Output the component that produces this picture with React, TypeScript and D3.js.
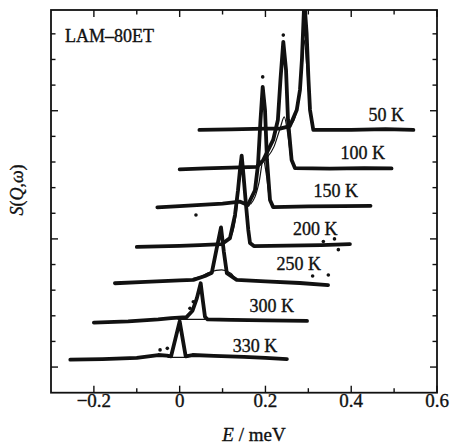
import React from "react";
import * as d3 from "d3";

type Pt = [number, number];

// Temperature labels and their positions (E, S)
const tempLabels = ["50 K", "100 K", "150 K", "200 K", "250 K", "300 K", "330 K"];
const labelE = [0.44, 0.375, 0.312, 0.264, 0.226, 0.163, 0.124];
const labelS = [10.61, 9.1, 7.62, 6.15, 4.79, 3.14, 1.6];

// Measured spectra (E in meV, S offset vertically)
const data50: Pt[] = [[0.046,10.25],[0.12,10.27],[0.2,10.3],[0.234,10.3],[0.257,10.4],[0.273,11.03],[0.2805,11.81],[0.285,12.98],[0.2906,15.3],[0.296,14.03],[0.3004,12.2],[0.3039,11.03],[0.3116,10.25],[0.4,10.25],[0.48,10.28],[0.545,10.25]];
const data100: Pt[] = [[0.0,8.71],[0.06,8.75],[0.12,8.78],[0.18,8.81],[0.195,9.08],[0.218,9.86],[0.229,10.64],[0.235,12.2],[0.2416,13.69],[0.248,12.59],[0.2526,10.64],[0.261,9.08],[0.269,8.76],[0.35,8.74],[0.43,8.76],[0.494,8.75]];
const data150: Pt[] = [[-0.052,7.23],[0.0,7.28],[0.05,7.33],[0.1,7.38],[0.141,7.45],[0.159,7.32],[0.1756,7.9],[0.1826,8.88],[0.1885,10.64],[0.1936,11.93],[0.199,11.03],[0.2036,9.08],[0.2106,7.52],[0.218,7.24],[0.3,7.27],[0.38,7.28],[0.445,7.29]];
const data200: Pt[] = [[-0.1,5.69],[0.0,5.73],[0.047,5.76],[0.0987,5.8],[0.1173,6.03],[0.129,6.93],[0.136,7.9],[0.1406,8.69],[0.1446,9.25],[0.1488,8.49],[0.1547,7.32],[0.16,6.35],[0.164,5.84],[0.173,5.72],[0.25,5.74],[0.33,5.76],[0.397,5.8]];
const data250: Pt[] = [[-0.151,4.27],[-0.08,4.32],[0.0,4.38],[0.032,4.4],[0.059,4.55],[0.075,4.68],[0.086,5.6],[0.0964,6.45],[0.103,5.5],[0.11,4.66],[0.133,4.4],[0.2,4.34],[0.28,4.28],[0.346,4.2]];
const data300: Pt[] = [[-0.2,2.73],[-0.12,2.78],[-0.05,2.86],[-0.02,2.91],[0.016,2.95],[0.03,3.2],[0.04,3.68],[0.049,4.27],[0.054,3.6],[0.059,2.96],[0.065,2.86],[0.12,2.84],[0.2,2.82],[0.297,2.8]];
const data330: Pt[] = [[-0.255,1.29],[-0.18,1.31],[-0.1,1.36],[-0.05,1.47],[-0.03,1.45],[-0.02,1.42],[-0.01,2.1],[0.0,2.78],[0.007,2.1],[0.014,1.42],[0.03,1.47],[0.08,1.44],[0.15,1.4],[0.2,1.36],[0.25,1.31]];

// Fitted curves (thin lines)
const fit50: Pt[] = [[0.24,10.32],[0.262,10.5],[0.276,11.3],[0.285,12.6],[0.2906,13.76],[0.296,12.8],[0.303,11.2],[0.31,10.3],[0.32,10.25]];
const fit100: Pt[] = [[0.18,8.78],[0.2,9.1],[0.22,9.6],[0.234,10.3],[0.2439,10.76],[0.252,10.1],[0.261,9.0],[0.27,8.78]];
const fit150: Pt[] = [[0.165,7.35],[0.1756,7.64],[0.185,8.2],[0.195,9.08],[0.203,8.4],[0.21,7.5],[0.218,7.28]];
const fit200: Pt[] = [[0.1,5.82],[0.12,6.1],[0.132,7.0],[0.14,8.3],[0.1446,8.7],[0.15,8.0],[0.156,7.0],[0.163,5.9],[0.17,5.75]];
const fit250: Pt[] = [[0.03,4.45],[0.047,4.52],[0.07,4.7],[0.098,4.79],[0.12,4.65],[0.133,4.42],[0.15,4.38]];
const fit300: Pt[] = [[-0.005,2.86],[0.14,2.86]];
const fit330: Pt[] = [[-0.028,1.38],[0.02,1.38]];

// Isolated data points
const outliers: Pt[] = [[0.1936,12.32],[0.2416,13.95],[0.038,6.93],[0.3466,4.59],[0.024,3.29],[0.0318,3.55],[-0.0288,1.73],[-0.0457,1.67],[0.361,6.0],[0.37,5.58],[0.31,4.55],[0.335,5.9]];

const spectra = [data50, data100, data150, data200, data250, data300, data330];
const fits = [fit50, fit100, fit150, fit200, fit250, fit300, fit330];

const xMajorTicks = [-0.2, 0, 0.2, 0.4, 0.6];
const xTickLabels = ["\u22120.2", "0", "0.2", "0.4", "0.6"];
const xMinorTicks = [-0.1, 0.1, 0.3, 0.5];
const yTicks = [1, 2, 3, 4, 5, 6, 7, 8, 9, 10, 11, 12, 13, 14];
const yMajorTicks = [1, 6, 11];

const W = 451;
const H = 444;
const L = 51, R = 437, T = 10, B = 392.7;
const FONT = "'Liberation Serif', 'Times New Roman', serif";
const INK = "#111";

export default function App() {
  const x = d3.scaleLinear().domain([-0.3, 0.6]).range([L, R]);
  const y = d3.scaleLinear().domain([0, 14.93]).range([B, T]);
  const line = d3.line<Pt>().x((d) => x(d[0])).y((d) => y(d[1])).curve(d3.curveLinear);
  const smooth = d3.line<Pt>().x((d) => x(d[0])).y((d) => y(d[1])).curve(d3.curveMonotoneX);
  const txt = { fontFamily: FONT, fill: INK, stroke: INK, strokeWidth: 0.35 };

  return (
    <svg width={W} height={H} style={{ position: "absolute", left: 0, top: 0, background: "#fff" }}>
      <defs>
        <clipPath id="plot">
          <rect x={L} y={T} width={R - L} height={B - T} />
        </clipPath>
      </defs>
      <rect x={0} y={0} width={W} height={H} fill="#fff" />
      <g clipPath="url(#plot)">
        {spectra.map((s, i) => (
          <path key={"d" + i} d={line(s) || ""} fill="none" stroke={INK} strokeWidth={3.8} strokeLinejoin="round" strokeLinecap="round" />
        ))}
        {fits.map((s, i) => (
          <path key={"f" + i} d={smooth(s) || ""} fill="none" stroke={INK} strokeWidth={1.2} />
        ))}
        {outliers.map((p, i) => (
          <circle key={"o" + i} cx={x(p[0])} cy={y(p[1])} r={1.8} fill={INK} />
        ))}
      </g>
      <rect x={L} y={T} width={R - L} height={B - T} fill="none" stroke={INK} strokeWidth={1.8} />
      {xMajorTicks.map((t, i) => (
        <g key={"xm" + i}>
          <line x1={x(t)} x2={x(t)} y1={B} y2={B - 7} stroke={INK} strokeWidth={1.4} />
          <line x1={x(t)} x2={x(t)} y1={T} y2={T + 7} stroke={INK} strokeWidth={1.4} />
          <text x={x(t)} y={407} textAnchor="middle" fontSize={19} {...txt}>{xTickLabels[i]}</text>
        </g>
      ))}
      {xMinorTicks.map((t, i) => (
        <g key={"xn" + i}>
          <line x1={x(t)} x2={x(t)} y1={B} y2={B - 4.5} stroke={INK} strokeWidth={1.4} />
          <line x1={x(t)} x2={x(t)} y1={T} y2={T + 4.5} stroke={INK} strokeWidth={1.4} />
        </g>
      ))}
      {yTicks.map((t) => {
        const len = yMajorTicks.includes(t) ? 7 : 4.5;
        return (
          <g key={"y" + t}>
            <line x1={L} x2={L + len} y1={y(t)} y2={y(t)} stroke={INK} strokeWidth={1.4} />
            <line x1={R} x2={R - len} y1={y(t)} y2={y(t)} stroke={INK} strokeWidth={1.4} />
          </g>
        );
      })}
      {tempLabels.map((t, i) => (
        <text key={"t" + i} x={x(labelE[i])} y={y(labelS[i])} fontSize={18} {...txt}>{t}</text>
      ))}
      <text x={65} y={42} fontSize={18} {...txt}>LAM–80ET</text>
      <text x={254} y={441} textAnchor="middle" fontSize={19} {...txt}>
        <tspan fontStyle="italic">E</tspan> / meV
      </text>
      <text transform="translate(23,190) rotate(-90)" textAnchor="middle" fontSize={18} {...txt}>
        <tspan fontStyle="italic">S</tspan>(<tspan fontStyle="italic">Q</tspan>,<tspan fontStyle="italic">ω</tspan>)
      </text>
    </svg>
  );
}
